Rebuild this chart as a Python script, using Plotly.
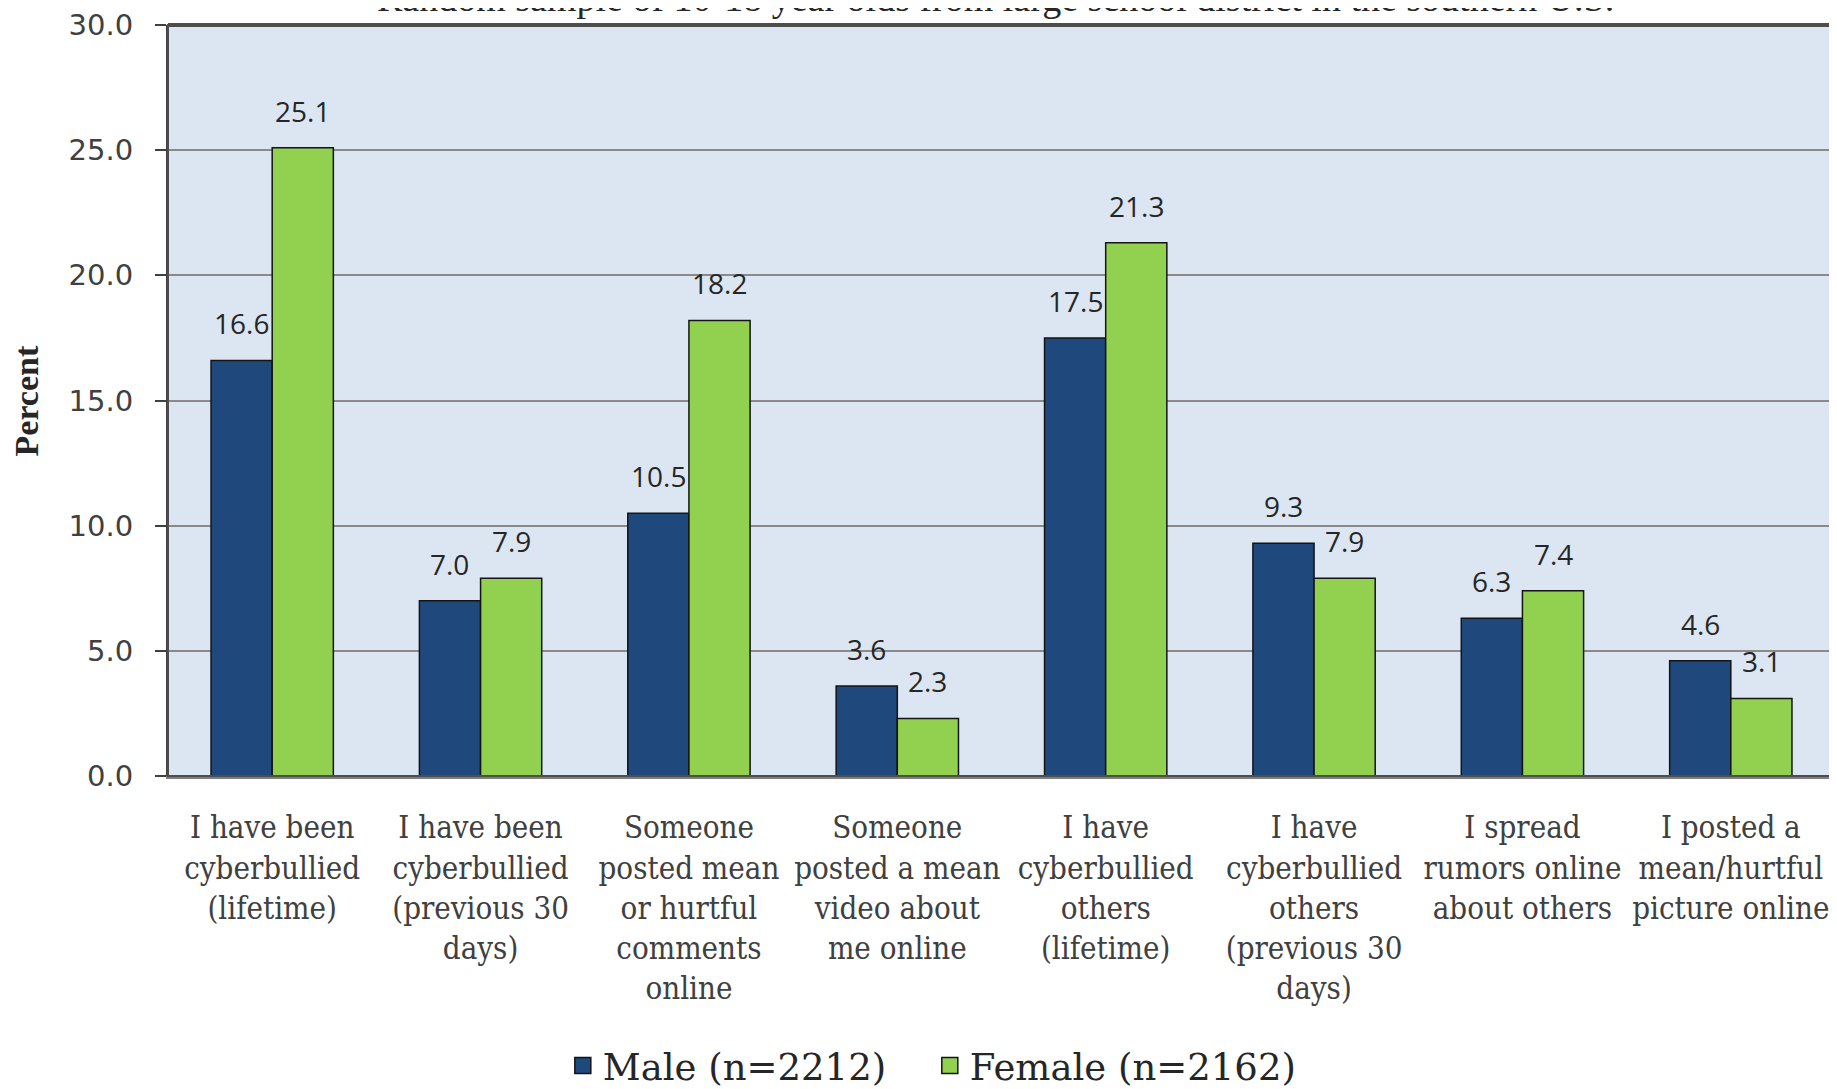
import plotly.graph_objects as go

categories = [
    "I have been<br>cyberbullied<br>(lifetime)",
    "I have been<br>cyberbullied<br>(previous 30<br>days)",
    "Someone<br>posted mean<br>or hurtful<br>comments<br>online",
    "Someone<br>posted a mean<br>video about<br>me online",
    "I have<br>cyberbullied<br>others<br>(lifetime)",
    "I have<br>cyberbullied<br>others<br>(previous 30<br>days)",
    "I spread<br>rumors online<br>about others",
    "I posted a<br>mean/hurtful<br>picture online",
]
male = [16.6, 7.0, 10.5, 3.6, 17.5, 9.3, 6.3, 4.6]
female = [25.1, 7.9, 18.2, 2.3, 21.3, 7.9, 7.4, 3.1]
series_names = ["Male (n=2212)", "Female (n=2162)"]
series_colors = ["#1F497D", "#92D050"]
y_ticks = [0, 5, 10, 15, 20, 25, 30]
title_text = "Random sample of 10-18 year olds from large school district in the southern U.S."
y_title = "Percent"

BARGAP = 0.413
half_bar = (1 - BARGAP) / 4  # half of one bar's width in category units

label_font = dict(family="Open Sans", size=28, color="#262626")
outline = dict(color="#141414", width=1.5)

fig = go.Figure()
for name, vals, col in zip(series_names, [male, female], series_colors):
    fig.add_trace(go.Bar(
        x=categories, y=vals, name=name, showlegend=False,
        marker=dict(color=col, line=outline),
    ))
# legend entries (bigger square symbols)
for name, col in zip(series_names, series_colors):
    fig.add_trace(go.Scatter(
        x=[None], y=[None], name=name, mode="markers",
        marker=dict(symbol="square", size=16, color=col,
                    line=dict(color="#141414", width=1.5)),
    ))

annotations = []
for sign, vals in zip([-1, 1], [male, female]):
    for i, v in enumerate(vals):
        annotations.append(dict(
            x=i + sign * half_bar, y=v, xref="x", yref="y",
            text=f"{v:.1f}", showarrow=False, yanchor="middle",
            yshift=37, font=label_font,
        ))
annotations.append(dict(
    text=title_text, xref="paper", yref="paper", x=0.4967, y=1.0354,
    xanchor="center", yanchor="middle", showarrow=False,
    font=dict(family="Liberation Serif", size=38, color="#262626"),
))
annotations.append(dict(
    text=f"<b>{y_title}</b>", xref="paper", yref="paper", x=-0.0846, y=0.5,
    xanchor="center", yanchor="middle", showarrow=False, textangle=-90,
    font=dict(family="Liberation Serif", size=34, color="#262626"),
))

fig.update_layout(
    width=1837, height=1100,
    margin=dict(l=160, r=10, t=17, b=332),
    paper_bgcolor="white",
    plot_bgcolor="#DCE6F2",
    barmode="group",
    bargap=BARGAP,
    bargroupgap=0,
    showlegend=True,
    legend=dict(
        orientation="h", x=0.457, xanchor="center", y=-0.3862, yanchor="middle",
        font=dict(family="DejaVu Serif", size=37, color="#262626"),
        itemsizing="trace", traceorder="normal",
        entrywidth=322, entrywidthmode="pixels",
    ),
    xaxis=dict(
        range=[-0.5, 7.5], automargin=False,
        showline=True, linecolor="#7f7f7f", linewidth=3,
        ticks="", ticklabelstandoff=22,
        tickfont=dict(family="DejaVu Serif Condensed, DejaVu Serif", size=31, color="#404040"),
        showgrid=False,
    ),
    yaxis=dict(
        range=[0, 30], tickvals=y_ticks, automargin=False,
        ticktext=[f"{v:.1f}" for v in y_ticks],
        tickfont=dict(family="DejaVu Sans", size=29, color="#404040"),
        ticks="outside", ticklen=11, tickcolor="#404040", tickwidth=2,
        ticklabelstandoff=16,
        showline=True, linecolor="#404040", linewidth=2,
        showgrid=True, gridcolor="#8a8a8a", gridwidth=2,
        zeroline=False,
    ),
    annotations=annotations,
    shapes=[dict(
        type="rect", xref="paper", yref="paper", x0=0, x1=1, y0=0, y1=1,
        line=dict(color="#4d4d4d", width=2), layer="above",
    ), dict(
        type="line", xref="paper", yref="paper", x0=0, x1=1, y0=1, y1=1,
        line=dict(color="#4d4d4d", width=4), layer="above",
    )],
)

fig.write_html("out.html")
